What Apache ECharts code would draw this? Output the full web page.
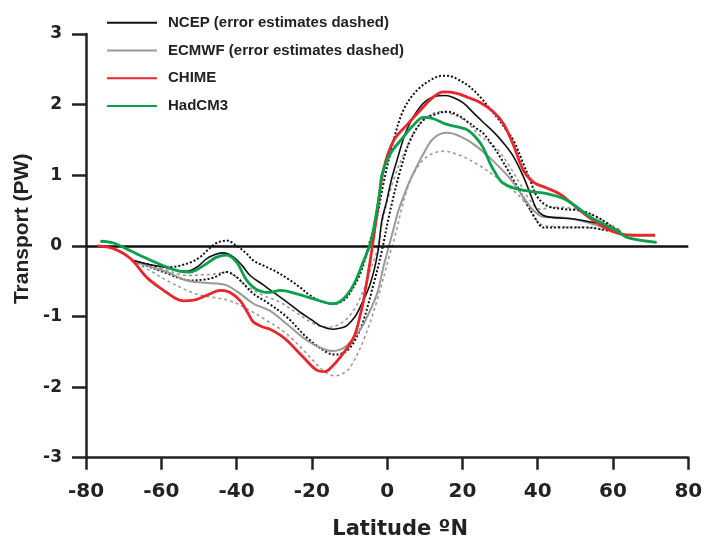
<!DOCTYPE html>
<html><head><meta charset="utf-8">
<script src="https://cdn.jsdelivr.net/npm/echarts@6/dist/echarts.min.js"></script>
<style>html,body{margin:0;padding:0;background:#fff}#c{width:702px;height:538px}</style>
</head><body><div id="c"></div>
<script>
// Tick values
const xTicks = [-80, -60, -40, -20, 0, 20, 40, 60, 80];
const yTicks = [-3, -2, -1, 0, 1, 2, 3];
const legendNames = ['NCEP (error estimates dashed)', 'ECMWF (error estimates dashed)', 'CHIME', 'HadCM3'];

// [latitude, transport PW]
const NCEP = [[-68,-0.2],[-63.5,-0.26],[-59.4,-0.3],[-55.5,-0.35],[-53.2,-0.36],[-50.5,-0.3],[-47.9,-0.18],[-45.5,-0.12],[-43.5,-0.1],[-40.8,-0.16],[-38.5,-0.28],[-36.4,-0.42],[-33,-0.55],[-30.2,-0.66],[-26.5,-0.8],[-23.1,-0.94],[-20,-1.05],[-17.8,-1.13],[-14.3,-1.18],[-12,-1.16],[-10.7,-1.13],[-8.5,-1.0],[-7.2,-0.87],[-4.5,-0.54],[-2.5,-0.1],[-1.4,0.36],[-0.1,0.64],[1.2,0.95],[2.6,1.21],[5.2,1.64],[8.8,1.97],[12.3,2.11],[15.5,2.13],[18,2.09],[20.3,2.02],[23,1.88],[25.5,1.75],[28.5,1.6],[31,1.45],[33.6,1.26],[36.2,0.98],[38,0.74],[39.7,0.52],[41.5,0.43],[44.2,0.4],[49.5,0.38],[54.8,0.33],[58,0.28],[60.1,0.24],[62,0.2]];
const NCEP_UP = [[-68,-0.2],[-62,-0.28],[-57.5,-0.3],[-55,-0.28],[-52,-0.23],[-49.7,-0.16],[-47.5,-0.05],[-45.3,0.04],[-42.6,0.075],[-40,0.0],[-37.5,-0.1],[-35.5,-0.21],[-32,-0.3],[-29.3,-0.37],[-26,-0.48],[-23.1,-0.59],[-20.5,-0.7],[-17.8,-0.78],[-14.3,-0.82],[-12.5,-0.8],[-10.7,-0.73],[-7.2,-0.4],[-4.5,0.075],[-2.7,0.41],[-1,0.88],[1.7,1.49],[4.3,1.92],[7.9,2.2],[12.3,2.37],[15,2.41],[17,2.4],[19.4,2.34],[22,2.25],[24.7,2.11],[27,1.96],[29.5,1.8],[31.5,1.65],[33.6,1.49],[36.2,1.16],[38,0.93],[39.7,0.71],[42.4,0.57],[46.8,0.52],[51.3,0.5],[55.7,0.41],[60.1,0.26],[62,0.2]];
const NCEP_LO = [[-68,-0.2],[-63,-0.3],[-58,-0.4],[-55,-0.46],[-52.3,-0.49],[-49,-0.48],[-46.1,-0.45],[-42.6,-0.37],[-40.5,-0.42],[-39,-0.49],[-35.5,-0.68],[-31.9,-0.8],[-26.6,-1.01],[-21.3,-1.3],[-16,-1.51],[-13.4,-1.54],[-11.5,-1.51],[-9.8,-1.44],[-8,-1.28],[-6.3,-1.06],[-3.6,-0.54],[-1.4,-0.07],[0.6,0.45],[3.5,1.07],[6.1,1.49],[9.6,1.78],[13.2,1.87],[15.9,1.9],[18,1.87],[20.3,1.8],[23.8,1.66],[25.6,1.59],[28,1.42],[30,1.26],[33.6,0.93],[37.1,0.6],[39.7,0.36],[41.5,0.26],[46.8,0.26],[53,0.26],[58.4,0.22],[62,0.18]];
const ECMWF = [[-68,-0.2],[-63.8,-0.28],[-58.5,-0.37],[-53.2,-0.49],[-49,-0.52],[-46.1,-0.53],[-42.6,-0.56],[-39,-0.68],[-35.5,-0.82],[-31.1,-0.92],[-26.6,-1.11],[-21.3,-1.34],[-16.9,-1.46],[-14.3,-1.49],[-12.5,-1.47],[-10.7,-1.41],[-8.5,-1.28],[-6.3,-1.11],[-2.7,-0.68],[-1,-0.3],[0.5,0],[1.5,0.2],[3,0.5],[4.5,0.72],[6.1,0.93],[9.6,1.3],[12.3,1.52],[15.9,1.6],[19.4,1.55],[23.5,1.42],[28.2,1.2],[32.7,0.95],[36.2,0.69],[38.9,0.5],[41.5,0.41],[46,0.4],[51.3,0.36],[55.7,0.29],[62,0.19]];
const ECMWF_UP = [[-68,-0.2],[-63,-0.28],[-59.4,-0.33],[-56,-0.39],[-53.2,-0.42],[-49,-0.41],[-46.1,-0.4],[-42.6,-0.37],[-40,-0.45],[-37,-0.58],[-33,-0.7],[-28.4,-0.8],[-24,-0.95],[-19.6,-1.1],[-16,-1.15],[-13.5,-1.13],[-11,-1.05],[-8.5,-0.88],[-6.3,-0.63],[-4.5,-0.35],[-2.7,-0.07],[-1,0.41],[1.7,0.93],[5.2,1.4],[8,1.68],[11,1.84],[14.1,1.9],[17,1.87],[20.5,1.78],[24.7,1.56],[29.1,1.38],[32.7,1.11],[35.3,0.88],[38,0.64],[40.6,0.52],[45,0.55],[50,0.52],[55,0.42],[60,0.28],[62,0.22]];
const ECMWF_LO = [[-68,-0.2],[-63,-0.35],[-58.5,-0.49],[-53.2,-0.63],[-49.5,-0.7],[-46.1,-0.73],[-41.7,-0.78],[-37.3,-0.89],[-31.9,-1.06],[-26.6,-1.25],[-21.3,-1.53],[-16.9,-1.77],[-13.8,-1.84],[-11.5,-1.8],[-9.8,-1.72],[-6.3,-1.34],[-2.7,-0.78],[0.8,-0.1],[2,0.12],[3.5,0.45],[5,0.75],[7,1.02],[10.5,1.26],[15,1.34],[19.4,1.28],[23.8,1.16],[29.1,0.97],[33.6,0.78],[36.2,0.64],[38.9,0.43],[41,0.3],[46,0.27],[53,0.26],[58,0.22],[62,0.18]];
const CHIME = [[-77,0],[-72.7,-0.04],[-68.2,-0.18],[-63.8,-0.45],[-59.4,-0.63],[-56,-0.75],[-54.1,-0.78],[-51.4,-0.77],[-47.9,-0.7],[-44.3,-0.63],[-41.7,-0.66],[-39,-0.78],[-37,-0.95],[-35.5,-1.08],[-33,-1.15],[-31.1,-1.18],[-28.5,-1.26],[-26.6,-1.34],[-22.2,-1.58],[-18.7,-1.76],[-16.5,-1.78],[-14.5,-1.7],[-12.5,-1.58],[-8.9,-1.3],[-7,-0.95],[-6.3,-0.78],[-4.5,-0.21],[-2.7,0.45],[-1,1.07],[1.7,1.49],[5.2,1.71],[8.8,1.92],[12.3,2.11],[15,2.18],[18.5,2.16],[21.5,2.1],[24.7,2.03],[28.2,1.9],[30.9,1.73],[33.6,1.42],[36.2,1.07],[38.9,0.9],[42.4,0.82],[46,0.73],[48.6,0.62],[51.3,0.5],[54.8,0.36],[58.4,0.24],[61.9,0.17],[65.5,0.15],[71.2,0.15]];
const HADCM3 = [[-76.2,0.065],[-72.7,0.04],[-68.2,-0.07],[-63.8,-0.18],[-58.5,-0.3],[-55,-0.36],[-52.3,-0.37],[-48.8,-0.28],[-45.3,-0.16],[-42.6,-0.13],[-40,-0.23],[-37.3,-0.49],[-34.6,-0.62],[-31.1,-0.66],[-28.4,-0.63],[-24,-0.68],[-19.6,-0.75],[-14.3,-0.82],[-11.6,-0.75],[-8.9,-0.55],[-6.3,-0.22],[-4.5,0.03],[-3.2,0.36],[-2,0.75],[-1.4,1.0],[0.8,1.3],[4.3,1.54],[7,1.71],[9.6,1.82],[12.3,1.8],[15.9,1.72],[21,1.65],[23.8,1.52],[25.6,1.38],[27.4,1.16],[29.1,1.0],[30.5,0.9],[33.5,0.82],[38,0.77],[42.4,0.74],[46.8,0.67],[50.4,0.55],[53.9,0.41],[57.5,0.31],[61,0.22],[63.7,0.12],[71.6,0.05]];

const BOLD = 'DejaVu Sans';
function ln(name, data, color, width, type, z) {
  return {
    name, type: 'line', data, smooth: 0.35, showSymbol: false, symbol: 'none', z: z,
    itemStyle: { color }, lineStyle: { color, width, type },
    emphasis: { disabled: true }, silent: true
  };
}
const chart = echarts.init(document.getElementById('c'), null, { renderer: 'canvas' });
chart.setOption({
  animation: false,
  grid: { left: 86, right: 13.7, top: 34, bottom: 80.3, containLabel: false, outerBoundsMode: 'none' },
  legend: {
    data: legendNames, orient: 'vertical', left: 107, top: 9, padding: 0,
    icon: 'rect', itemWidth: 50, itemHeight: 2, itemGap: 0,
    selectedMode: false,
    textStyle: { fontFamily: 'Liberation Sans, Arial, sans-serif', fontWeight: 'bold', fontSize: 15, lineHeight: 27.7, color: '#222', padding: [0, 0, 0, 6] }
  },
  xAxis: {
    type: 'value', min: xTicks[0], max: xTicks[xTicks.length - 1], interval: 20,
    name: 'Latitude ºN', nameLocation: 'middle', nameGap: 61,
    nameTextStyle: { fontFamily: BOLD, fontWeight: 'bold', fontSize: 21, color: '#222', padding: [0, 0, 0, 26] },
    axisLine: { onZero: false, lineStyle: { color: '#222', width: 2.5 } },
    axisTick: { show: true, inside: false, length: 12, lineStyle: { color: '#222', width: 2.5 } },
    axisLabel: { fontFamily: BOLD, fontWeight: 'bold', fontSize: 20, color: '#222', margin: 24 },
    splitLine: { show: false }
  },
  yAxis: {
    type: 'value', min: yTicks[0], max: yTicks[yTicks.length - 1], interval: 1,
    name: 'Transport (PW)', nameLocation: 'middle', nameGap: 52,
    nameTextStyle: { fontFamily: 'Liberation Sans', fontWeight: 'bold', fontSize: 21, color: '#222', padding: [0, 0, 0, 34] },
    axisLine: { show: true, onZero: false, lineStyle: { color: '#222', width: 2.5 } },
    axisTick: { show: true, inside: false, length: 14, lineStyle: { color: '#222', width: 2.5 } },
    axisLabel: { fontFamily: BOLD, fontWeight: 'bold', fontSize: 17, color: '#222', margin: 24 },
    splitLine: { show: false }
  },
  series: [
    ln('ECMWF upper', ECMWF_UP, '#9a9a9a', 1.6, [3, 3], 2),
    ln('ECMWF lower', ECMWF_LO, '#9a9a9a', 1.6, [3, 3], 2),
    ln('NCEP upper', NCEP_UP, '#111111', 2, [2, 2], 3),
    ln('NCEP lower', NCEP_LO, '#111111', 2, [2, 2], 3),
    ln(legendNames[1], ECMWF, '#999999', 2, 'solid', 4),
    Object.assign(ln(legendNames[0], NCEP, '#111111', 1.6, 'solid', 5), {
      markLine: { silent: true, symbol: 'none', label: { show: false },
        lineStyle: { color: '#111', width: 2.5, type: 'solid' }, data: [{ yAxis: 0 }] }
    }),
    ln(legendNames[2], CHIME, '#e8262b', 2.8, 'solid', 6),
    ln(legendNames[3], HADCM3, '#0aa04a', 2.8, 'solid', 7)
  ]
});
</script></body></html>
